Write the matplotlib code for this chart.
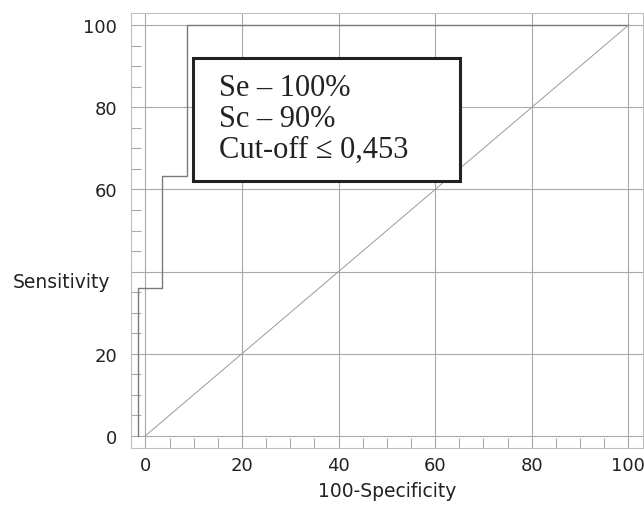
import matplotlib.pyplot as plt
from matplotlib.ticker import MultipleLocator

# ROC step curve (100-Specificity, Sensitivity)
fpr = [-1.5, -1.5, 3.4, 3.4, 8.6, 8.6, 100]
tpr = [0, 36, 36, 63.3, 63.3, 100, 100]

diag_x = [0, 100]
diag_y = [0, 100]

ticks = [0, 20, 40, 60, 80, 100]
ytick_labels = ["0", "20", "", "60", "80", "100"]
xtick_labels = ["0", "20", "40", "60", "80", "100"]

box_lines = ["Se \u2013 100%", "Sc \u2013 90%", "Cut-off \u2264 0,453"]

fig = plt.figure(figsize=(6.44, 5.1), dpi=100)
ax = fig.add_axes([0.2034, 0.1196, 0.7946, 0.8529])

ax.plot(fpr, tpr, color="#7a7a7a", lw=1.0, zorder=3)
ax.plot(diag_x, diag_y, color="#9a9a9a", lw=0.7, zorder=3)

ax.set_xlim(-3, 103)
ax.set_ylim(-3, 103)
ax.set_xticks(ticks)
ax.set_yticks(ticks)
ax.set_xticklabels(xtick_labels)
ax.set_yticklabels(ytick_labels)
ax.xaxis.set_minor_locator(MultipleLocator(5))
ax.yaxis.set_minor_locator(MultipleLocator(5))
ax.tick_params(which="major", length=0, labelsize=13, labelcolor="#222222")
ax.tick_params(axis="x", which="major", pad=6)
ax.tick_params(axis="y", which="major", pad=10)
ax.tick_params(which="minor", direction="in", length=7, color="#aaaaaa", width=0.8)
ax.grid(True, which="major", color="#a8a8a8", lw=0.8)

for s in ax.spines.values():
    s.set_color("#c0c0c0")
    s.set_linewidth(0.8)

ax.set_xlabel("100-Specificity", fontsize=13.5, color="#222222", labelpad=5)
ax.set_ylabel("Sensitivity", fontsize=13.5, color="#222222", rotation=0,
              ha="right", va="center")
ax.yaxis.set_label_coords(-0.041, 0.382)

ax.add_patch(plt.Rectangle((9.9, 62), 55.3, 30, facecolor="white",
                           edgecolor="#222222", lw=2.2, zorder=4))
ax.text(15.3, 77.3, "\n".join(box_lines), fontsize=22, family="Liberation Serif",
        color="#222222", va="center", ha="left", linespacing=1.07, zorder=5)

fig.savefig("out.png", dpi=100)
